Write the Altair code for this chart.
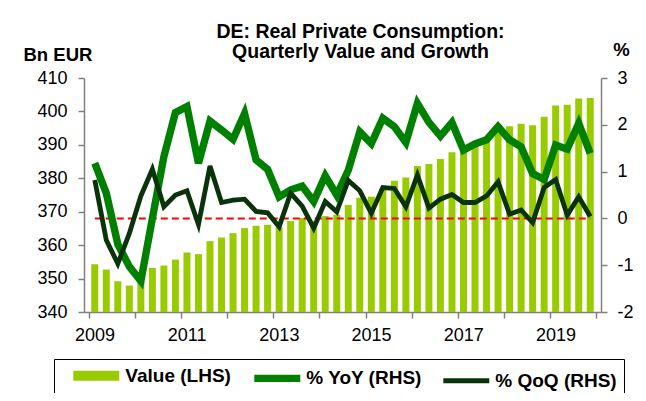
import altair as alt
import pandas as pd

# ---- data ----
start_year = 2009
values = [354.3, 352.7, 349.2, 347.9, 349.3, 353.2, 353.9, 355.7, 357.8, 357.3,
          361.2, 362.3, 363.6, 365.1, 365.8, 366.1, 365.3, 367.2, 368.1, 367.3,
          368.7, 369.1, 372.0, 374.2, 374.5, 377.0, 379.3, 380.2, 383.7, 384.3,
          385.8, 387.8, 388.9, 390.2, 392.1, 395.1, 395.6, 396.3, 395.9, 398.4,
          401.8, 402.0, 403.9, 404.0]
yoy = [1.18, 0.54, -0.55, -1.03, -1.34, 0.0, 1.32, 2.26, 2.39, 1.18,
       2.08, 1.89, 1.69, 2.24, 1.25, 1.05, 0.46, 0.61, 0.69, 0.36,
       0.91, 0.50, 1.03, 1.85, 1.60, 2.14, 1.96, 1.62, 2.46, 2.05,
       1.76, 2.05, 1.46, 1.59, 1.68, 1.96, 1.68, 1.53, 0.96, 0.83,
       1.57, 1.48, 2.03, 1.39]
qoq = [0.82, -0.46, -0.97, -0.32, 0.48, 1.05, 0.25, 0.50, 0.59, -0.13,
       1.12, 0.34, 0.39, 0.41, 0.15, 0.12, -0.18, 0.54, 0.26, -0.21,
       0.36, 0.14, 0.81, 0.59, 0.11, 0.66, 0.64, 0.25, 0.93, 0.22,
       0.41, 0.51, 0.34, 0.34, 0.48, 0.78, 0.09, 0.18, -0.09, 0.66,
       0.83, 0.07, 0.46, 0.04]
series_names = ["Value (LHS)", "% YoY (RHS)", "% QoQ (RHS)"]
series_colors = ["#99CC00", "#008000", "#0B330B"]
series_widths = [10, 4.8, 1.5]
lhs_ticks = [340, 350, 360, 370, 380, 390, 400, 410]
rhs_ticks = [-2, -1, 0, 1, 2, 3]
year_ticks = list(range(2009, 2021))

t = [start_year + (i + 0.5) / 4 for i in range(len(values))]
df = pd.DataFrame({"t": t, "value": values, "yoy": yoy, "qoq": qoq,
                   "zero": [0.0] * len(values)})

FONT = "Liberation Sans"
AX_COL = "#808080"

x_enc = alt.X(
    "t:Q",
    scale=alt.Scale(domain=[2009, 2020], nice=False, zero=False),
    axis=alt.Axis(values=year_ticks,
                  labelExpr="datum.value % 2 == 1 && datum.value < 2020 ? '' + datum.value : ''",
                  title=None, tickSize=6, labelPadding=8, labelOffset=5.5,
                  labelFont=FONT, labelFontSize=18, labelColor="#000",
                  domainColor=AX_COL, tickColor=AX_COL, domainWidth=1.5, tickWidth=1.5,
                  labelOverlap=False, labelFlush=False, grid=False),
)

left_axis = alt.Axis(orient="left", values=lhs_ticks, title="Bn EUR", titleAngle=0,
                     titleAlign="left", titleBaseline="alphabetic", titleX=-61, titleY=-18,
                     titleFont=FONT, titleFontSize=18.5, titleFontWeight="bold", titleColor="#000",
                     labelFont=FONT, labelFontSize=18, labelColor="#000", labelPadding=11,
                     tickSize=6, domainColor=AX_COL, tickColor=AX_COL, domainWidth=1.5,
                     tickWidth=1.5, grid=False)
right_axis = alt.Axis(orient="right", values=rhs_ticks, labelExpr="'' + datum.value",
                      title="%", titleAngle=0, titleAlign="center", titleBaseline="alphabetic",
                      titleX=20, titleY=-23, titleFont=FONT, titleFontSize=18.5,
                      titleFontWeight="bold", titleColor="#000",
                      labelFont=FONT, labelFontSize=18, labelColor="#000", labelPadding=10,
                      tickSize=6, domainColor=AX_COL, tickColor=AX_COL, domainWidth=1.5,
                      tickWidth=1.5, grid=False)
rhs_scale = alt.Scale(domain=[-2, 3], nice=False, zero=False)

legend = alt.Legend(orient="none", legendX=-30, legendY=281, direction="horizontal",
                    title=None, symbolType="M-5.11,0H5.11", symbolSize=81,
                    symbolOffset=25.8, labelOffset=19.5,
                    labelFont=FONT, labelFontSize=19, labelFontWeight="bold",
                    labelColor="#000", columnPadding=8, padding=7,
                    strokeColor="#000", labelLimit=300)
color_scale = alt.Scale(domain=series_names, range=series_colors)
width_scale = alt.Scale(domain=series_names, range=series_widths)

base = alt.Chart(df)

bars = base.mark_bar(size=7, color="#99CC00").encode(
    x=x_enc,
    y=alt.Y("value:Q", scale=alt.Scale(domain=[340, 410], nice=False, zero=False),
            axis=left_axis),
    y2=alt.datum(340),
)

zero_line = base.mark_line(color="#FF0000", strokeDash=[7, 4], strokeWidth=2).encode(
    x=x_enc,
    y=alt.Y("zero:Q", scale=rhs_scale, axis=right_axis),
)

yoy_line = base.transform_calculate(series="'% YoY (RHS)'").mark_line().encode(
    x=x_enc,
    y=alt.Y("yoy:Q", scale=rhs_scale, axis=right_axis),
    color=alt.Color("series:N", scale=color_scale, legend=legend),
    strokeWidth=alt.StrokeWidth("series:N", scale=width_scale, legend=legend),
)

qoq_line = base.transform_calculate(series="'% QoQ (RHS)'").mark_line().encode(
    x=x_enc,
    y=alt.Y("qoq:Q", scale=rhs_scale, axis=right_axis),
    color=alt.Color("series:N", scale=color_scale, legend=legend),
    strokeWidth=alt.StrokeWidth("series:N", scale=width_scale, legend=legend),
)

right = alt.layer(zero_line, yoy_line, qoq_line)

chart = alt.layer(bars, right).resolve_scale(y="independent").properties(
    width=517,
    height=234,
    title=alt.TitleParams(text=["DE: Real Private Consumption:", "Quarterly Value and Growth"],
                          font=FONT, fontSize=19.5, fontWeight="bold", color="#000",
                          anchor="middle", frame="group", dx=18, offset=-22, lineHeight=20),
    padding={"left": 76, "top": 70, "right": 37, "bottom": 81},
    autosize=alt.AutoSizeParams(type="none"),
).configure_view(stroke=None)

chart.save("out.html", embed_options={"renderer": "svg", "actions": False})
